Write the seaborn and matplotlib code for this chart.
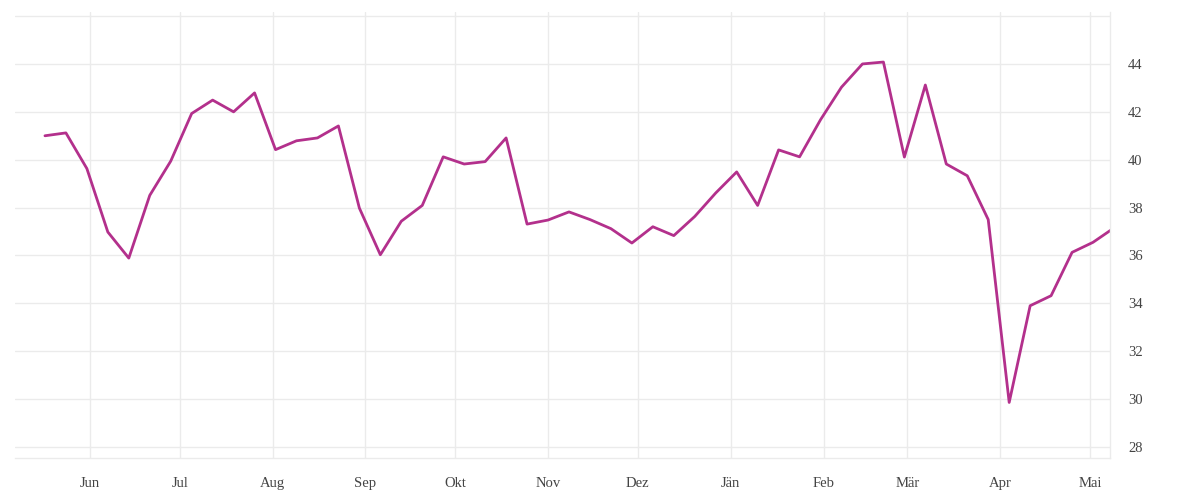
import matplotlib
matplotlib.use("Agg")
import matplotlib.pyplot as plt
import seaborn as sns
import pandas as pd
import numpy as np

# ---- data ----
start_date = "2018-05-17"
values = [41.0, 41.12, 39.63, 36.98, 35.89, 38.51, 39.94, 41.93, 42.49, 42.0,
          42.79, 40.42, 40.79, 40.91, 41.41, 37.98, 36.03, 37.43, 38.09, 40.12,
          39.82, 39.92, 40.91, 37.31, 37.48, 37.82, 37.5, 37.12, 36.52, 37.2,
          36.83, 37.63, 38.61, 39.49, 38.09, 40.41, 40.12, 41.67, 43.03, 44.0,
          44.08, 40.11, 43.12, 39.82, 39.33, 37.5, 29.86, 33.9, 34.32, 36.13,
          36.55, 37.15]
month_ticks = ["2018-06-01", "2018-07-01", "2018-08-01", "2018-09-01", "2018-10-01",
               "2018-11-01", "2018-12-01", "2019-01-01", "2019-02-01", "2019-03-01",
               "2019-04-01", "2019-05-01"]
month_labels = ["Jun", "Jul", "Aug", "Sep", "Okt", "Nov", "Dez", "Jän", "Feb", "Mär",
                "Apr", "Mai"]
y_ticks = [28, 30, 32, 34, 36, 38, 40, 42, 44, 46]
y_labels = ["28", "30", "32", "34", "36", "38", "40", "42", "44", ""]

df = pd.DataFrame({"date": pd.date_range(start_date, periods=len(values), freq="7D"),
                   "value": values})

sns.set_style("white")
plt.rcParams["font.family"] = ["Liberation Serif", "DejaVu Serif"]

GRID = "#ebebeb"
TEXT = "#444444"

fig = plt.figure(figsize=(12, 5), dpi=100)
ax = fig.add_axes([15 / 1200, 1 - 458 / 500, (1110 - 15) / 1200, (458 - 12) / 500])

sns.lineplot(data=df, x="date", y="value", ax=ax, color="#b3308c", linewidth=2.0)

ax.set_xlim(pd.Timestamp("2018-05-07"), pd.Timestamp("2019-05-07 16:00"))
ax.set_ylim(27.54, 46.17)

ax.set_xticks(pd.to_datetime(month_ticks))
ax.set_xticklabels(month_labels)
ax.set_yticks(y_ticks)
ax.set_yticklabels(y_labels)

ax.yaxis.tick_right()
ax.grid(True, color=GRID, linewidth=1)
ax.set_axisbelow(True)

ax.tick_params(axis="x", length=10, width=1, color=GRID, pad=4, labelsize=10.5,
               labelcolor=TEXT)
ax.tick_params(axis="y", length=0, pad=13, labelsize=10.5, labelcolor=TEXT)

for s in ["left", "top"]:
    ax.spines[s].set_visible(False)
for s in ["right", "bottom"]:
    ax.spines[s].set_color(GRID)
    ax.spines[s].set_linewidth(1)

ax.set_xlabel("")
ax.set_ylabel("")

fig.savefig("out.png", dpi=100)
